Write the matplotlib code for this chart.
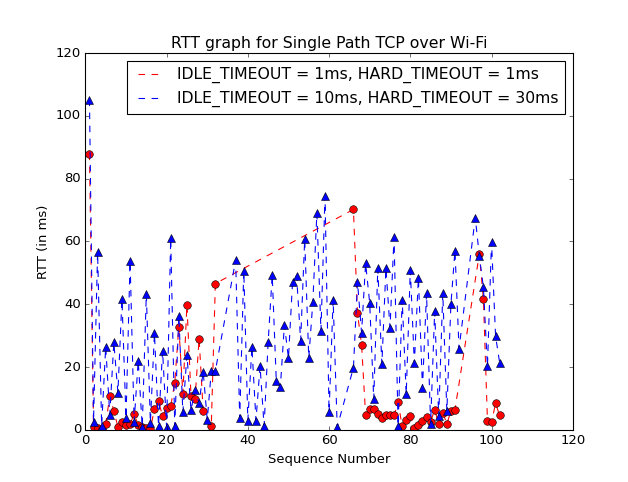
import matplotlib
matplotlib.use("Agg")
import matplotlib.pyplot as plt

# sequence numbers / RTT (ms)
red_seq = list(range(1, 30)) + [31, 32] + list(range(66, 92)) + list(range(97, 103))
red_rtt = [88.0, 1.0, 0.5, 0.3, 1.9, 10.8, 6.0, 1.0, 2.6, 1.6,
           1.9, 5.0, 1.6, 1.0, 0.5, 0.3, 6.6, 9.1, 4.5, 7.0,
           7.5, 15.1, 32.8, 11.5, 39.8, 10.9, 9.9, 29.1, 6.0,
           1.4, 46.6,
           70.2, 37.1, 27.2, 4.6, 6.6, 6.6, 5.1, 3.9, 4.6, 4.6,
           4.6, 8.9, 1.1, 3.3, 4.5, 0.5, 1.5, 3.0, 4.0, 2.5,
           6.5, 1.9, 5.5, 1.9, 6.0, 6.5,
           56.0, 41.7, 3.0, 2.4, 8.5, 4.6]

blue_seq = list(range(1, 33)) + list(range(37, 63)) + list(range(66, 93)) + list(range(96, 103))
blue_rtt = [105.2, 2.6, 56.6, 1.4, 26.5, 4.8, 27.9, 11.9, 41.6, 3.7,
            53.8, 2.6, 22.0, 1.0, 43.3, 2.3, 30.8, 1.3, 25.2, 0.8,
            61.0, 1.2, 36.4, 5.6, 23.9, 6.3, 12.8, 8.5, 18.6, 3.2,
            18.8, 18.8,
            54.1, 3.7, 50.7, 3.0, 26.5, 3.0, 20.4, 1.3, 28.0, 49.3,
            15.6, 13.6, 33.5, 22.8, 47.0, 49.1, 28.4, 60.7, 22.9, 40.7,
            69.0, 31.5, 74.5, 5.7, 41.5, 0.9,
            19.8, 47.1, 31.0, 53.0, 40.5, 9.8, 51.5, 20.9, 51.5, 32.5,
            61.4, 1.3, 41.5, 11.4, 50.9, 21.2, 48.5, 13.4, 43.5, 1.9,
            37.8, 4.4, 43.5, 6.0, 40.0, 57.1, 25.9,
            67.6, 55.4, 45.4, 20.2, 59.9, 29.9, 21.4]

red_label = "IDLE_TIMEOUT = 1ms, HARD_TIMEOUT = 1ms"
blue_label = "IDLE_TIMEOUT = 10ms, HARD_TIMEOUT = 30ms"

plt.style.use("classic")
fig = plt.figure(figsize=(628 / 78.5, 482 / 78.5), dpi=78.5)
fig.subplots_adjust(left=0.136, right=0.912, bottom=0.108, top=0.890)
ax = fig.add_subplot(111)

ax.plot(red_seq, red_rtt, "r--", label=red_label)
ax.plot(red_seq, red_rtt, "ro", markeredgecolor="k", markersize=7)
ax.plot(blue_seq, blue_rtt, "b--", label=blue_label)
ax.plot(blue_seq, blue_rtt, "b^", markeredgecolor="k", markersize=7)

ax.set_xlim(0, 120)
ax.set_ylim(0, 120)
ax.set_title("RTT graph for Single Path TCP over Wi-Fi")
ax.set_xlabel("Sequence Number")
ax.set_ylabel("RTT (in ms)")
ax.legend(loc="upper right")

fig.savefig("out.png", dpi=78.5, facecolor="white")
